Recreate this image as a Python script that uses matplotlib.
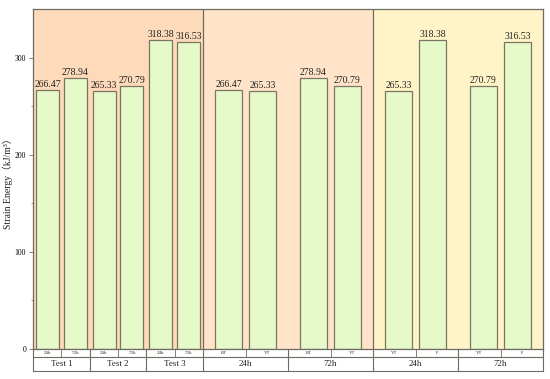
import numpy as np
import matplotlib.pyplot as plt
from matplotlib.transforms import blended_transform_factory

# panel 1: tests
p1_groups = ["Test 1", "Test 2", "Test 3"]
p1_subs = ["24h", "72h"]
p1_values = [[266.47, 278.94], [265.33, 270.79], [318.38, 316.53]]

# panel 2: RT vs VT
p2_groups = ["24h", "72h"]
p2_subs = ["RT", "VT"]
p2_values = [[266.47, 265.33], [278.94, 270.79]]

# panel 3: VT vs F
p3_groups = ["24h", "72h"]
p3_subs = ["VT", "F"]
p3_values = [[265.33, 318.38], [270.79, 316.53]]

panels = [(p1_groups, p1_subs, p1_values),
          (p2_groups, p2_subs, p2_values),
          (p3_groups, p3_subs, p3_values)]
panel_colors = ["#FDDAB9", "#FFE4C9", "#FFF4C7"]
bar_color = "#E6F9C9"
edge = "#7C7564"
line_col = "#6F6B60"

plt.rcParams['font.family'] = ['Liberation Serif', 'Noto Sans CJK SC']

fig = plt.figure(figsize=(5.5, 3.79), dpi=100)
ax = fig.add_axes([33 / 550, 30 / 379, 510 / 550, 340 / 379])
ax.set_xlim(0, 3)
ax.set_ylim(0, 350)
trans = blended_transform_factory(ax.transData, ax.transAxes)

row1 = -8 / 340
row2 = -22 / 340

for p, (groups, subs, values) in enumerate(panels):
    ax.axvspan(p, p + 1, color=panel_colors[p], zorder=0, lw=0)
    n = len(groups)
    gw = 1.0 / n
    # spacing of bars inside a group
    off = 0.081 if n == 3 else 0.1
    bw = 0.136 if n == 3 else 0.161
    for g, grp in enumerate(groups):
        gc = p + gw * (g + 0.5)
        for s, sub in enumerate(subs):
            x = gc + (s - 0.5) * 2 * off
            v = values[g][s]
            ax.bar(x, v, width=bw, color=bar_color, edgecolor=edge, lw=0.9, zorder=2)
            ax.text(x, v + 1, f"{v:.2f}", ha='center', va='bottom', fontsize=7, color='#222222', zorder=3)
            # sub label in first table row
            sx = p + gw * g + gw * (s + 0.5) / len(subs)
            ax.text(sx, (0 + row1) / 2, sub, transform=trans, ha='center', va='center',
                    fontsize=3.5, color='#333333', clip_on=False)
        # tick between subs
        ax.plot([gc, gc], [0, row1], transform=trans, color=line_col, lw=0.6, clip_on=False)
        # group label
        ax.text(gc, (row1 + row2) / 2, grp, transform=trans, ha='center', va='center',
                fontsize=6.5, color='#222222', clip_on=False)
        # group boundary
        ax.plot([p + gw * g, p + gw * g], [0, row2], transform=trans, color=line_col, lw=0.8, clip_on=False)

# panel separators
for xb in [1, 2]:
    ax.plot([xb, xb], [0, 1], transform=trans, color=line_col, lw=0.9, zorder=4)
ax.plot([3, 3], [0, row2], transform=trans, color=line_col, lw=0.8, clip_on=False)
for yy in [row1, row2]:
    ax.plot([0, 3], [yy, yy], transform=trans, color=line_col, lw=0.8, clip_on=False)

for sp in ax.spines.values():
    sp.set_color(line_col)
    sp.set_linewidth(0.9)

ax.set_xticks([])
ax.set_yticks([0, 100, 200, 300])
ax.set_yticks([50, 150, 250], minor=True)
ax.tick_params(axis='y', which='major', labelsize=5.5, length=3, width=0.6, color=line_col, pad=2)
ax.tick_params(axis='y', which='minor', length=1.8, width=0.5, color=line_col)

fig.text(8 / 550, 1 - 181 / 379, "Strain Energy（kJ/m³）", rotation=90, ha='center', va='center',
         fontsize=7, color='#222222')

fig.savefig("out.png", dpi=100)
